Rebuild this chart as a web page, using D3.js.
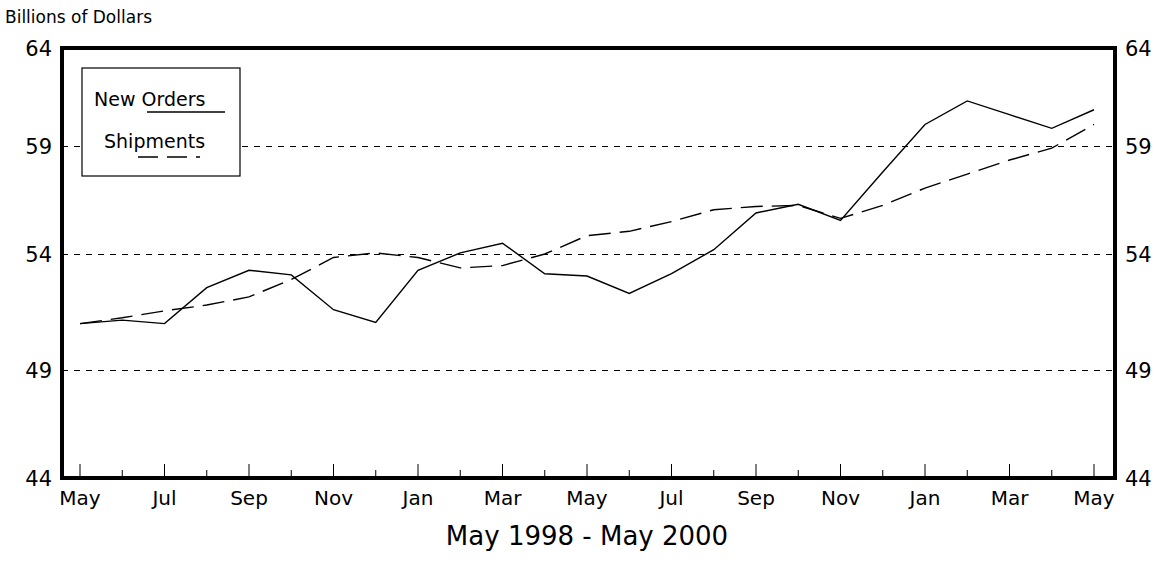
<!DOCTYPE html><html><head><meta charset="utf-8">
<script src="https://cdn.jsdelivr.net/npm/d3@7"></script>
<style>body{margin:0;background:#fff}text{font-family:"DejaVu Sans",Arial,sans-serif;fill:#000}</style>
</head><body><svg id="c" width="1174" height="579"></svg>
<script>
const monthLabels=["May","Jul","Sep","Nov","Jan","Mar","May","Jul","Sep","Nov","Jan","Mar","May"];
const yTicks=[44,49,54,59,64];
const newOrders=[51.0,51.15,51.0,52.55,53.3,53.1,51.6,51.05,53.3,54.05,54.5,53.15,53.05,52.3,53.15,54.2,55.9,56.3,55.55,57.8,60.1,61.3,60.6,59.9,60.85];
const shipments=[51.0,51.25,51.55,51.8,52.15,52.9,53.85,54.05,53.85,53.4,53.5,54.0,54.85,55.05,55.5,56.05,56.2,56.25,55.65,56.25,57.05,57.7,58.35,58.9,60.1];
const svg=d3.select("#c");
const L=62,R=1115,T=48,B=478;
const x=d3.scaleLinear().domain([0,24]).range([80,1094]);
const y=d3.scaleLinear().domain(yTicks).range([B,370,254,146,T]);
yTicks.slice(1,4).forEach(v=>svg.append("line").attr("x1",L).attr("x2",R).attr("y1",Math.round(y(v))+0.5).attr("y2",Math.round(y(v))+0.5).attr("stroke","#000").attr("stroke-dasharray","6,6").attr("stroke-width",1.2));
d3.range(0,25).forEach(i=>svg.append("line").attr("x1",x(i)).attr("x2",x(i)).attr("y1",B).attr("y2",B-(i%2==0?14:8)).attr("stroke","#000"));
const line=d3.line().x((d,i)=>x(i)).y(d=>y(d));
svg.append("path").attr("d",line(newOrders)).attr("fill","none").attr("stroke","#000").attr("stroke-width",1.4);
svg.append("path").attr("d",line(shipments)).attr("fill","none").attr("stroke","#000").attr("stroke-width",1.4).attr("stroke-dasharray","22,9");
svg.append("rect").attr("x",L).attr("y",T).attr("width",R-L).attr("height",B-T).attr("fill","none").attr("stroke","#000").attr("stroke-width",4);
yTicks.forEach(v=>{
svg.append("text").attr("x",L-10).attr("y",y(v)+8).attr("text-anchor","end").attr("font-size",21).text(v);
svg.append("text").attr("x",R+10).attr("y",y(v)+8).attr("font-size",21).text(v);});
monthLabels.forEach((m,i)=>svg.append("text").attr("x",x(i*2)).attr("y",505).attr("text-anchor","middle").attr("font-size",20).text(m));
svg.append("text").attr("x",5).attr("y",23).attr("font-size",17).text("Billions of Dollars");
svg.append("text").attr("x",587).attr("y",545).attr("text-anchor","middle").attr("font-size",26).text("May 1998 - May 2000");
const lg=svg.append("g");
lg.append("rect").attr("x",82).attr("y",68).attr("width",158).attr("height",108).attr("fill","#fff").attr("stroke","#000").attr("stroke-width",1.2);
lg.append("text").attr("x",94).attr("y",106).attr("font-size",19).text("New Orders");
lg.append("line").attr("x1",147).attr("x2",225).attr("y1",112).attr("y2",112).attr("stroke","#000").attr("stroke-width",1.3);
lg.append("text").attr("x",104).attr("y",148).attr("font-size",19).text("Shipments");
lg.append("line").attr("x1",138).attr("x2",200).attr("y1",157).attr("y2",157).attr("stroke","#000").attr("stroke-width",1.3).attr("stroke-dasharray","20,9");
</script></body></html>
